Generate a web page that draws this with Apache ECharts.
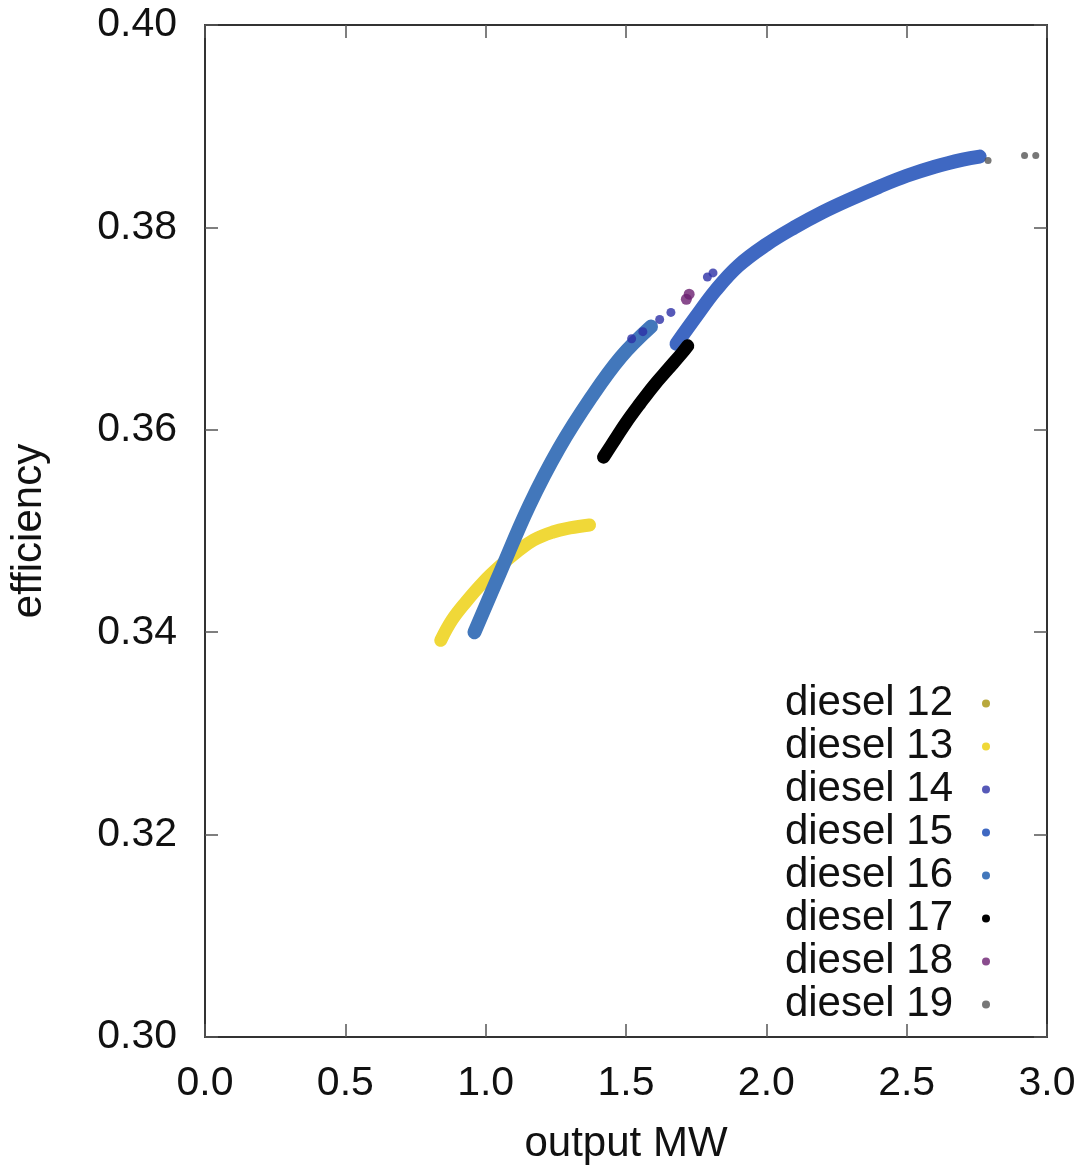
<!DOCTYPE html>
<html><head><meta charset="utf-8">
<script src="https://cdn.jsdelivr.net/npm/echarts@6/dist/echarts.min.js"></script>
<style>html,body{margin:0;padding:0;background:#fff}#c{width:1084px;height:1176px}</style>
</head><body><div id="c"></div>
<script>
// ---- data ----
const seriesNames = ['diesel 12','diesel 13','diesel 14','diesel 15','diesel 16','diesel 17','diesel 18','diesel 19'];
const xTicks = [0.0,0.5,1.0,1.5,2.0,2.5,3.0];
const yTicks = [0.30,0.32,0.34,0.36,0.38,0.40];

const d12x = [1.26,1.30,1.34,1.37];
const d12y = [0.3500,0.3503,0.3505,0.3506];
const d13x = [0.84,0.88,0.93,0.99,1.05,1.11,1.17,1.24,1.30,1.37];
const d13y = [0.3392,0.3412,0.3430,0.3449,0.3465,0.3479,0.3491,0.3499,0.3503,0.3506];
const d14x = [1.52,1.56,1.62,1.66,1.79,1.81];
const d14y = [0.3690,0.3697,0.3709,0.3716,0.3751,0.3755];
const d15x = [1.68,1.75,1.82,1.90,2.00,2.10,2.20,2.30,2.40,2.50,2.60,2.70,2.76];
const d15y = [0.3685,0.3712,0.3738,0.3762,0.3783,0.3800,0.3815,0.3828,0.3840,0.3851,0.3860,0.3867,0.3870];
const d16x = [0.96,1.05,1.155,1.262,1.376,1.482,1.589];
const d16y = [0.3400,0.3458,0.3525,0.3582,0.3632,0.3672,0.3702];
const d17x = [1.42,1.46,1.50,1.55,1.60,1.65,1.70,1.72];
const d17y = [0.3573,0.3590,0.3607,0.3626,0.3644,0.3660,0.3676,0.3683];
const d18x = [1.715,1.725];
const d18y = [0.3729,0.3734];
const d19x = [2.79,2.92,2.96];
const d19y = [0.3866,0.3871,0.3871];

const colors = ['#b8a83c','#f0d838','#2c30a6','#3f68c2','#4277bb','#000000','#6b1f70','#555555'];

const pairs = (xs, ys) => xs.map((x, i) => [x, ys[i]]);
const FONT = 'Liberation Sans';

function band(idx, xs, ys, w) {
  return { name: seriesNames[idx], type: 'line', smooth: 0.4, showSymbol: false,
    data: pairs(xs, ys), color: colors[idx],
    lineStyle: { width: w, color: colors[idx], cap: 'round', join: 'round' }, z: 2 + idx };
}
function dots(idx, xs, ys, s) {
  return { name: seriesNames[idx], type: 'scatter', symbolSize: s,
    data: pairs(xs, ys), itemStyle: { color: colors[idx] }, color: colors[idx], z: 10 + idx };
}

const axisLineStyle = { show: true, onZero: false, lineStyle: { color: '#333', width: 2 } };
const tickIn = { show: true, inside: true, length: 13, lineStyle: { color: '#555', width: 1.5 } };

const chart = echarts.init(document.getElementById('c'), null, { renderer: 'canvas' });
chart.setOption({
  animation: false,
  backgroundColor: '#fff',
  grid: { left: 203, right: 37, top: 25, bottom: 139, containLabel: false },
  legend: {
    orient: 'vertical', right: 94, top: 682, padding: 0, itemGap: 0,
    align: 'right', icon: 'circle', itemWidth: 56, itemHeight: 8,
    textStyle: { fontFamily: FONT, fontSize: 42, color: '#111', lineHeight: 43 },
    data: seriesNames
  },
  xAxis: [
    { type: 'value', min: xTicks[0], max: xTicks[xTicks.length-1], interval: 0.5,
      name: 'output MW', nameLocation: 'middle', nameGap: 86,
      nameTextStyle: { fontFamily: FONT, fontSize: 42, color: '#111' },
      axisLine: axisLineStyle, axisTick: tickIn, splitLine: { show: false },
      axisLabel: { fontFamily: FONT, fontSize: 41, color: '#111', margin: 26,
        formatter: v => v.toFixed(1) } },
    { type: 'value', position: 'top', min: xTicks[0], max: xTicks[xTicks.length-1], interval: 0.5,
      axisLine: axisLineStyle, axisTick: tickIn, splitLine: { show: false }, axisLabel: { show: false } }
  ],
  yAxis: [
    { type: 'value', min: yTicks[0], max: yTicks[yTicks.length-1], interval: 0.02,
      name: 'efficiency', nameLocation: 'middle', nameGap: 155, nameRotate: 90,
      nameTextStyle: { fontFamily: FONT, fontSize: 42, color: '#111' },
      axisLine: axisLineStyle, axisTick: tickIn, splitLine: { show: false },
      axisLabel: { fontFamily: FONT, fontSize: 41, color: '#111', margin: 28,
        formatter: v => v.toFixed(2) } },
    { type: 'value', position: 'right', min: yTicks[0], max: yTicks[yTicks.length-1], interval: 0.02,
      axisLine: axisLineStyle, axisTick: tickIn, splitLine: { show: false }, axisLabel: { show: false } }
  ],
  series: [
    band(1, d13x, d13y, 13),
    band(0, d12x, d12y, 9),
    band(4, d16x, d16y, 14),
    band(3, d15x, d15y, 14),
    band(5, d17x, d17y, 13),
    dots(2, d14x, d14y, 9),
    dots(6, d18x, d18y, 11),
    dots(7, d19x, d19y, 7)
  ]
});
</script></body></html>
